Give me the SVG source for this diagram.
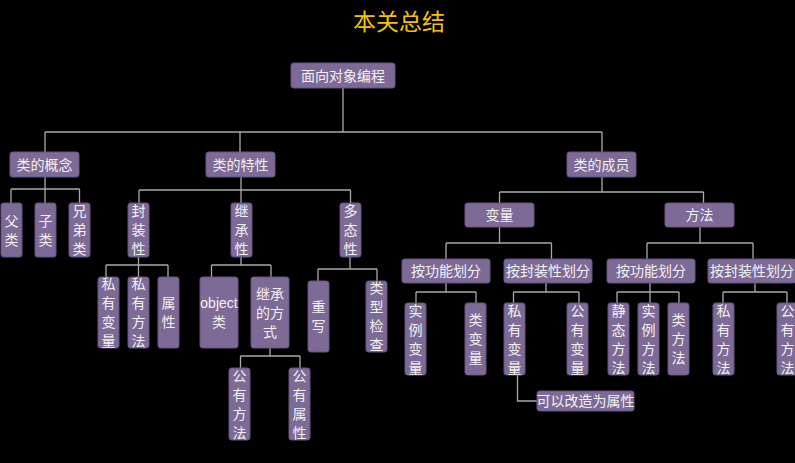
<svg xmlns="http://www.w3.org/2000/svg" width="795" height="463" viewBox="0 0 795 463">
<style>
.n rect{fill:#7d6a97;stroke:#66557f;stroke-width:1}
.n text{fill:#f2f2f2;font-family:"Liberation Sans","Noto Sans CJK SC",sans-serif;font-size:14px;text-anchor:middle;dominant-baseline:central}
#edges path{fill:none;stroke:#a9a9a9;stroke-width:1.3}
.title{fill:#f5c400;font-family:"Liberation Sans","Noto Sans CJK SC",sans-serif;font-size:23px;text-anchor:middle;dominant-baseline:central}
</style>
<rect x="0" y="0" width="795" height="463" fill="#000"/>
<text class="title" x="399" y="22">本关总结</text>
<g id="edges">
<path d="M343 88V132M45 132H602M45 132V152M240 132V152M602 132V152"/>
<path d="M45 177V189M11 189H79.5M11 189V203M45 189V203M79.5 189V203"/>
<path d="M241 177V190M139 190H350.5M139 190V203M241 190V203M350.5 190V203"/>
<path d="M138.5 257V265M106 265H168M106 265V277M138.5 265V277M168 265V277"/>
<path d="M241 257V265M211.5 265H271M211.5 265V277M271 265V277"/>
<path d="M350 257V269M318 269H377M318 269V281M377 269V281"/>
<path d="M270 348V356M240.5 356H300M240.5 356V368M300 356V368"/>
<path d="M602 177V192M499.5 192H703.5M499.5 192V203M703.5 192V203"/>
<path d="M499.5 227V243M446 243H551.5M446 243V259M551.5 243V259"/>
<path d="M700 227V243M647 243H753M647 243V259M753 243V259"/>
<path d="M446 283V292M416 292H476M416 292V303M476 292V303"/>
<path d="M546 283V292M513.5 292H579M513.5 292V303M579 292V303"/>
<path d="M650 283V292M617 292H679M617 292V303M650 292V303M679 292V303"/>
<path d="M755 283V292M723 292H787M723 292V303M787 292V303"/>
<path d="M517.5 375V401H537"/>
</g>
<g id="root" class="n"><rect x="291" y="63" width="104" height="25" rx="2.5"/><text x="343" y="75.5">面向对象编程</text></g>
<g id="concept" class="n"><rect x="10" y="152" width="69" height="25" rx="2.5"/><text x="44.5" y="164.5">类的概念</text></g>
<g id="feature" class="n"><rect x="206" y="152" width="69" height="25" rx="2.5"/><text x="240.5" y="164.5">类的特性</text></g>
<g id="member" class="n"><rect x="567" y="152" width="69" height="25" rx="2.5"/><text x="601.5" y="164.5">类的成员</text></g>
<g id="parent" class="n"><rect x="1" y="203" width="21" height="54" rx="2.5"/><text><tspan x="11.5" y="220.5">父</tspan><tspan x="11.5" y="239.5">类</tspan></text></g>
<g id="child" class="n"><rect x="35" y="203" width="21" height="54" rx="2.5"/><text><tspan x="45.5" y="220.5">子</tspan><tspan x="45.5" y="239.5">类</tspan></text></g>
<g id="sibling" class="n"><rect x="69" y="203" width="21" height="54" rx="2.5"/><text><tspan x="79.5" y="211">兄</tspan><tspan x="79.5" y="230">弟</tspan><tspan x="79.5" y="249">类</tspan></text></g>
<g id="encap" class="n"><rect x="128" y="203" width="21" height="54" rx="2.5"/><text><tspan x="138.5" y="211">封</tspan><tspan x="138.5" y="230">装</tspan><tspan x="138.5" y="249">性</tspan></text></g>
<g id="inherit" class="n"><rect x="231" y="203" width="21" height="54" rx="2.5"/><text><tspan x="241.5" y="211">继</tspan><tspan x="241.5" y="230">承</tspan><tspan x="241.5" y="249">性</tspan></text></g>
<g id="poly" class="n"><rect x="340" y="203" width="21" height="54" rx="2.5"/><text><tspan x="350.5" y="211">多</tspan><tspan x="350.5" y="230">态</tspan><tspan x="350.5" y="249">性</tspan></text></g>
<g id="privvar1" class="n"><rect x="98" y="277" width="21" height="71" rx="2.5"/><text><tspan x="108.5" y="284">私</tspan><tspan x="108.5" y="303">有</tspan><tspan x="108.5" y="322">变</tspan><tspan x="108.5" y="341">量</tspan></text></g>
<g id="privmeth1" class="n"><rect x="128" y="277" width="21" height="71" rx="2.5"/><text><tspan x="138.5" y="284">私</tspan><tspan x="138.5" y="303">有</tspan><tspan x="138.5" y="322">方</tspan><tspan x="138.5" y="341">法</tspan></text></g>
<g id="attr" class="n"><rect x="158" y="277" width="21" height="71" rx="2.5"/><text><tspan x="168.5" y="303">属</tspan><tspan x="168.5" y="322">性</tspan></text></g>
<g id="objclass" class="n"><rect x="200" y="277" width="38" height="71" rx="2.5"/><text><tspan x="219" y="303">object</tspan><tspan x="219" y="322">类</tspan></text></g>
<g id="inhway" class="n"><rect x="251" y="277" width="38" height="71" rx="2.5"/><text><tspan x="270" y="293.5">继承</tspan><tspan x="270" y="312.5">的方</tspan><tspan x="270" y="331.5">式</tspan></text></g>
<g id="override" class="n"><rect x="308" y="281" width="21" height="71" rx="2.5"/><text><tspan x="318.5" y="307">重</tspan><tspan x="318.5" y="326">写</tspan></text></g>
<g id="typecheck" class="n"><rect x="366" y="281" width="21" height="71" rx="2.5"/><text><tspan x="376.5" y="288">类</tspan><tspan x="376.5" y="307">型</tspan><tspan x="376.5" y="326">检</tspan><tspan x="376.5" y="345">查</tspan></text></g>
<g id="pubmeth1" class="n"><rect x="229" y="368" width="21" height="72" rx="2.5"/><text><tspan x="239.5" y="375.5">公</tspan><tspan x="239.5" y="394.5">有</tspan><tspan x="239.5" y="413.5">方</tspan><tspan x="239.5" y="432.5">法</tspan></text></g>
<g id="pubattr" class="n"><rect x="289" y="368" width="21" height="72" rx="2.5"/><text><tspan x="299.5" y="375.5">公</tspan><tspan x="299.5" y="394.5">有</tspan><tspan x="299.5" y="413.5">属</tspan><tspan x="299.5" y="432.5">性</tspan></text></g>
<g id="var" class="n"><rect x="465" y="203" width="69" height="24" rx="2.5"/><text x="499.5" y="215">变量</text></g>
<g id="meth" class="n"><rect x="665" y="203" width="69" height="24" rx="2.5"/><text x="699.5" y="215">方法</text></g>
<g id="varfunc" class="n"><rect x="402" y="259" width="88" height="24" rx="2.5"/><text x="446" y="271">按功能划分</text></g>
<g id="varenc" class="n"><rect x="504" y="259" width="88" height="24" rx="2.5"/><text x="548" y="271">按封装性划分</text></g>
<g id="methfunc" class="n"><rect x="607" y="259" width="88" height="24" rx="2.5"/><text x="651" y="271">按功能划分</text></g>
<g id="methenc" class="n"><rect x="708" y="259" width="88" height="24" rx="2.5"/><text x="752" y="271">按封装性划分</text></g>
<g id="instvar" class="n"><rect x="405" y="303" width="21" height="72" rx="2.5"/><text><tspan x="415.5" y="310.5">实</tspan><tspan x="415.5" y="329.5">例</tspan><tspan x="415.5" y="348.5">变</tspan><tspan x="415.5" y="367.5">量</tspan></text></g>
<g id="classvar" class="n"><rect x="465" y="303" width="21" height="72" rx="2.5"/><text><tspan x="475.5" y="320">类</tspan><tspan x="475.5" y="339">变</tspan><tspan x="475.5" y="358">量</tspan></text></g>
<g id="privvar2" class="n"><rect x="504" y="303" width="21" height="72" rx="2.5"/><text><tspan x="514.5" y="310.5">私</tspan><tspan x="514.5" y="329.5">有</tspan><tspan x="514.5" y="348.5">变</tspan><tspan x="514.5" y="367.5">量</tspan></text></g>
<g id="pubvar" class="n"><rect x="567" y="303" width="21" height="72" rx="2.5"/><text><tspan x="577.5" y="310.5">公</tspan><tspan x="577.5" y="329.5">有</tspan><tspan x="577.5" y="348.5">变</tspan><tspan x="577.5" y="367.5">量</tspan></text></g>
<g id="staticmeth" class="n"><rect x="608" y="303" width="21" height="72" rx="2.5"/><text><tspan x="618.5" y="310.5">静</tspan><tspan x="618.5" y="329.5">态</tspan><tspan x="618.5" y="348.5">方</tspan><tspan x="618.5" y="367.5">法</tspan></text></g>
<g id="instmeth" class="n"><rect x="638" y="303" width="21" height="72" rx="2.5"/><text><tspan x="648.5" y="310.5">实</tspan><tspan x="648.5" y="329.5">例</tspan><tspan x="648.5" y="348.5">方</tspan><tspan x="648.5" y="367.5">法</tspan></text></g>
<g id="classmeth" class="n"><rect x="668" y="303" width="21" height="72" rx="2.5"/><text><tspan x="678.5" y="320">类</tspan><tspan x="678.5" y="339">方</tspan><tspan x="678.5" y="358">法</tspan></text></g>
<g id="privmeth2" class="n"><rect x="713" y="303" width="21" height="72" rx="2.5"/><text><tspan x="723.5" y="310.5">私</tspan><tspan x="723.5" y="329.5">有</tspan><tspan x="723.5" y="348.5">方</tspan><tspan x="723.5" y="367.5">法</tspan></text></g>
<g id="pubmeth2" class="n"><rect x="777" y="303" width="21" height="72" rx="2.5"/><text><tspan x="787.5" y="310.5">公</tspan><tspan x="787.5" y="329.5">有</tspan><tspan x="787.5" y="348.5">方</tspan><tspan x="787.5" y="367.5">法</tspan></text></g>
<g id="toattr" class="n"><rect x="537" y="391" width="97" height="20" rx="2.5"/><text x="585.5" y="401">可以改造为属性</text></g>
</svg>
